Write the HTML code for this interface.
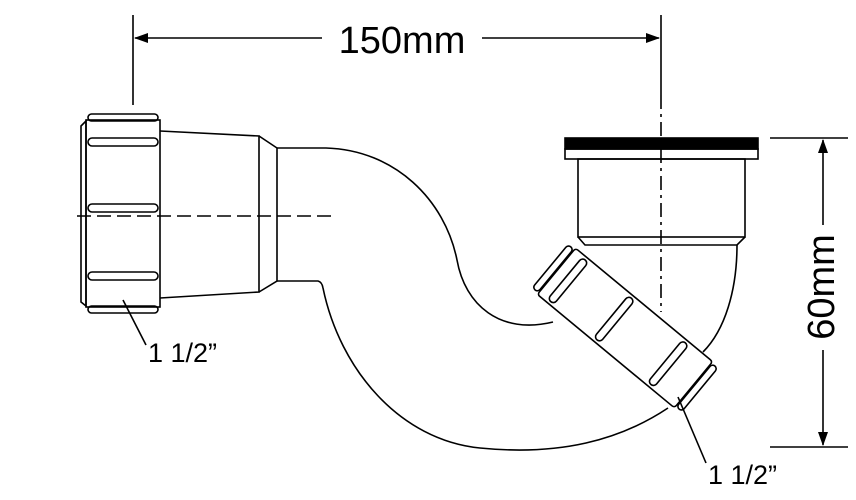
<!DOCTYPE html>
<html><head><meta charset="utf-8"><style>
html,body{margin:0;padding:0;background:#fff;}
svg{display:block;}
text{font-family:"Liberation Sans",Arial,sans-serif;fill:#000;}
</style></head><body>
<svg width="856" height="500" viewBox="0 0 856 500" xmlns="http://www.w3.org/2000/svg">
<defs>
<marker id="ar" markerWidth="14" markerHeight="10" refX="13" refY="5" orient="auto" markerUnits="userSpaceOnUse">
<path d="M0,0 L14,5 L0,10 Z" fill="#000"/></marker>
</defs>
<g fill="none" stroke="#000" stroke-width="1.6">
<!-- dimension 150mm -->
<line x1="133" y1="15" x2="133" y2="105"/>
<line x1="661" y1="15" x2="661" y2="95"/>
<line x1="661" y1="95" x2="661" y2="312" stroke-dasharray="14,5,3,5"/>
<line x1="322" y1="38" x2="135" y2="38" marker-end="url(#ar)"/>
<line x1="482" y1="38" x2="659" y2="38" marker-end="url(#ar)"/>
<!-- 60mm -->
<line x1="770" y1="138" x2="848" y2="138"/>
<line x1="770" y1="447" x2="848" y2="447"/>
<line x1="823" y1="225" x2="823" y2="140" marker-end="url(#ar)"/>
<line x1="823" y1="350" x2="823" y2="445" marker-end="url(#ar)"/>

<!-- left nut -->
<rect x="88" y="114" width="70" height="7" rx="3.5"/>
<rect x="88" y="306" width="70" height="7" rx="3.5"/>
<path d="M86,121 L81,126 L81,302 L86,306 Z"/>
<rect x="86" y="120" width="74" height="187"/>
<rect x="88" y="138" width="70" height="8" rx="4"/>
<rect x="88" y="204" width="70" height="8" rx="4"/>
<rect x="88" y="272" width="70" height="8" rx="4"/>
<!-- cone -->
<path d="M160,131 L259,136 L259,292 L160,298"/>
<path d="M259,136 L277,148 L277,281 L259,292"/>
<line x1="77" y1="216" x2="334" y2="216" stroke-dasharray="14,6"/>
<!-- S pipe -->
<path d="M277,148 L326,148 C395,150 445,200 457,260 C465,305 500,335 553,322"/>
<path d="M277,281 L318,281 Q322,282 323,288 C340,370 400,440 480,448 C560,456 620,440 668,408"/>
<path d="M737,245 C737,290 725,330 703,352"/>

<!-- right fitting -->
<rect x="565" y="138" width="193" height="11" fill="#000"/>
<rect x="565" y="149" width="193" height="10"/>
<rect x="578" y="159" width="167" height="78"/>
<path d="M578,237 L585,245 L737,245 L745,237"/>

<!-- angled nut -->
<g transform="translate(625,328) rotate(39.6)">
<rect x="-89" y="-30" width="178" height="60" rx="3" fill="#fff"/>
<rect x="-97" y="-28" width="7" height="56" rx="3.5" fill="#fff"/>
<rect x="90" y="-28" width="7" height="56" rx="3.5" fill="#fff"/>
<rect x="-78" y="-27" width="8" height="54" rx="4"/>
<rect x="-18" y="-27" width="8" height="54" rx="4"/>
<rect x="52" y="-27" width="8" height="54" rx="4"/>
</g>
<!-- leaders -->
<line x1="123" y1="300" x2="146" y2="345"/>
<line x1="678" y1="397" x2="706" y2="463"/>
</g>
<text x="402" y="53" font-size="38" text-anchor="middle">150mm</text>
<text transform="translate(834,287) rotate(-90)" font-size="38" text-anchor="middle">60mm</text>
<text x="148" y="362" font-size="27">1 1/2”</text>
<text x="708" y="484" font-size="27">1 1/2”</text>
</svg>
</body></html>
